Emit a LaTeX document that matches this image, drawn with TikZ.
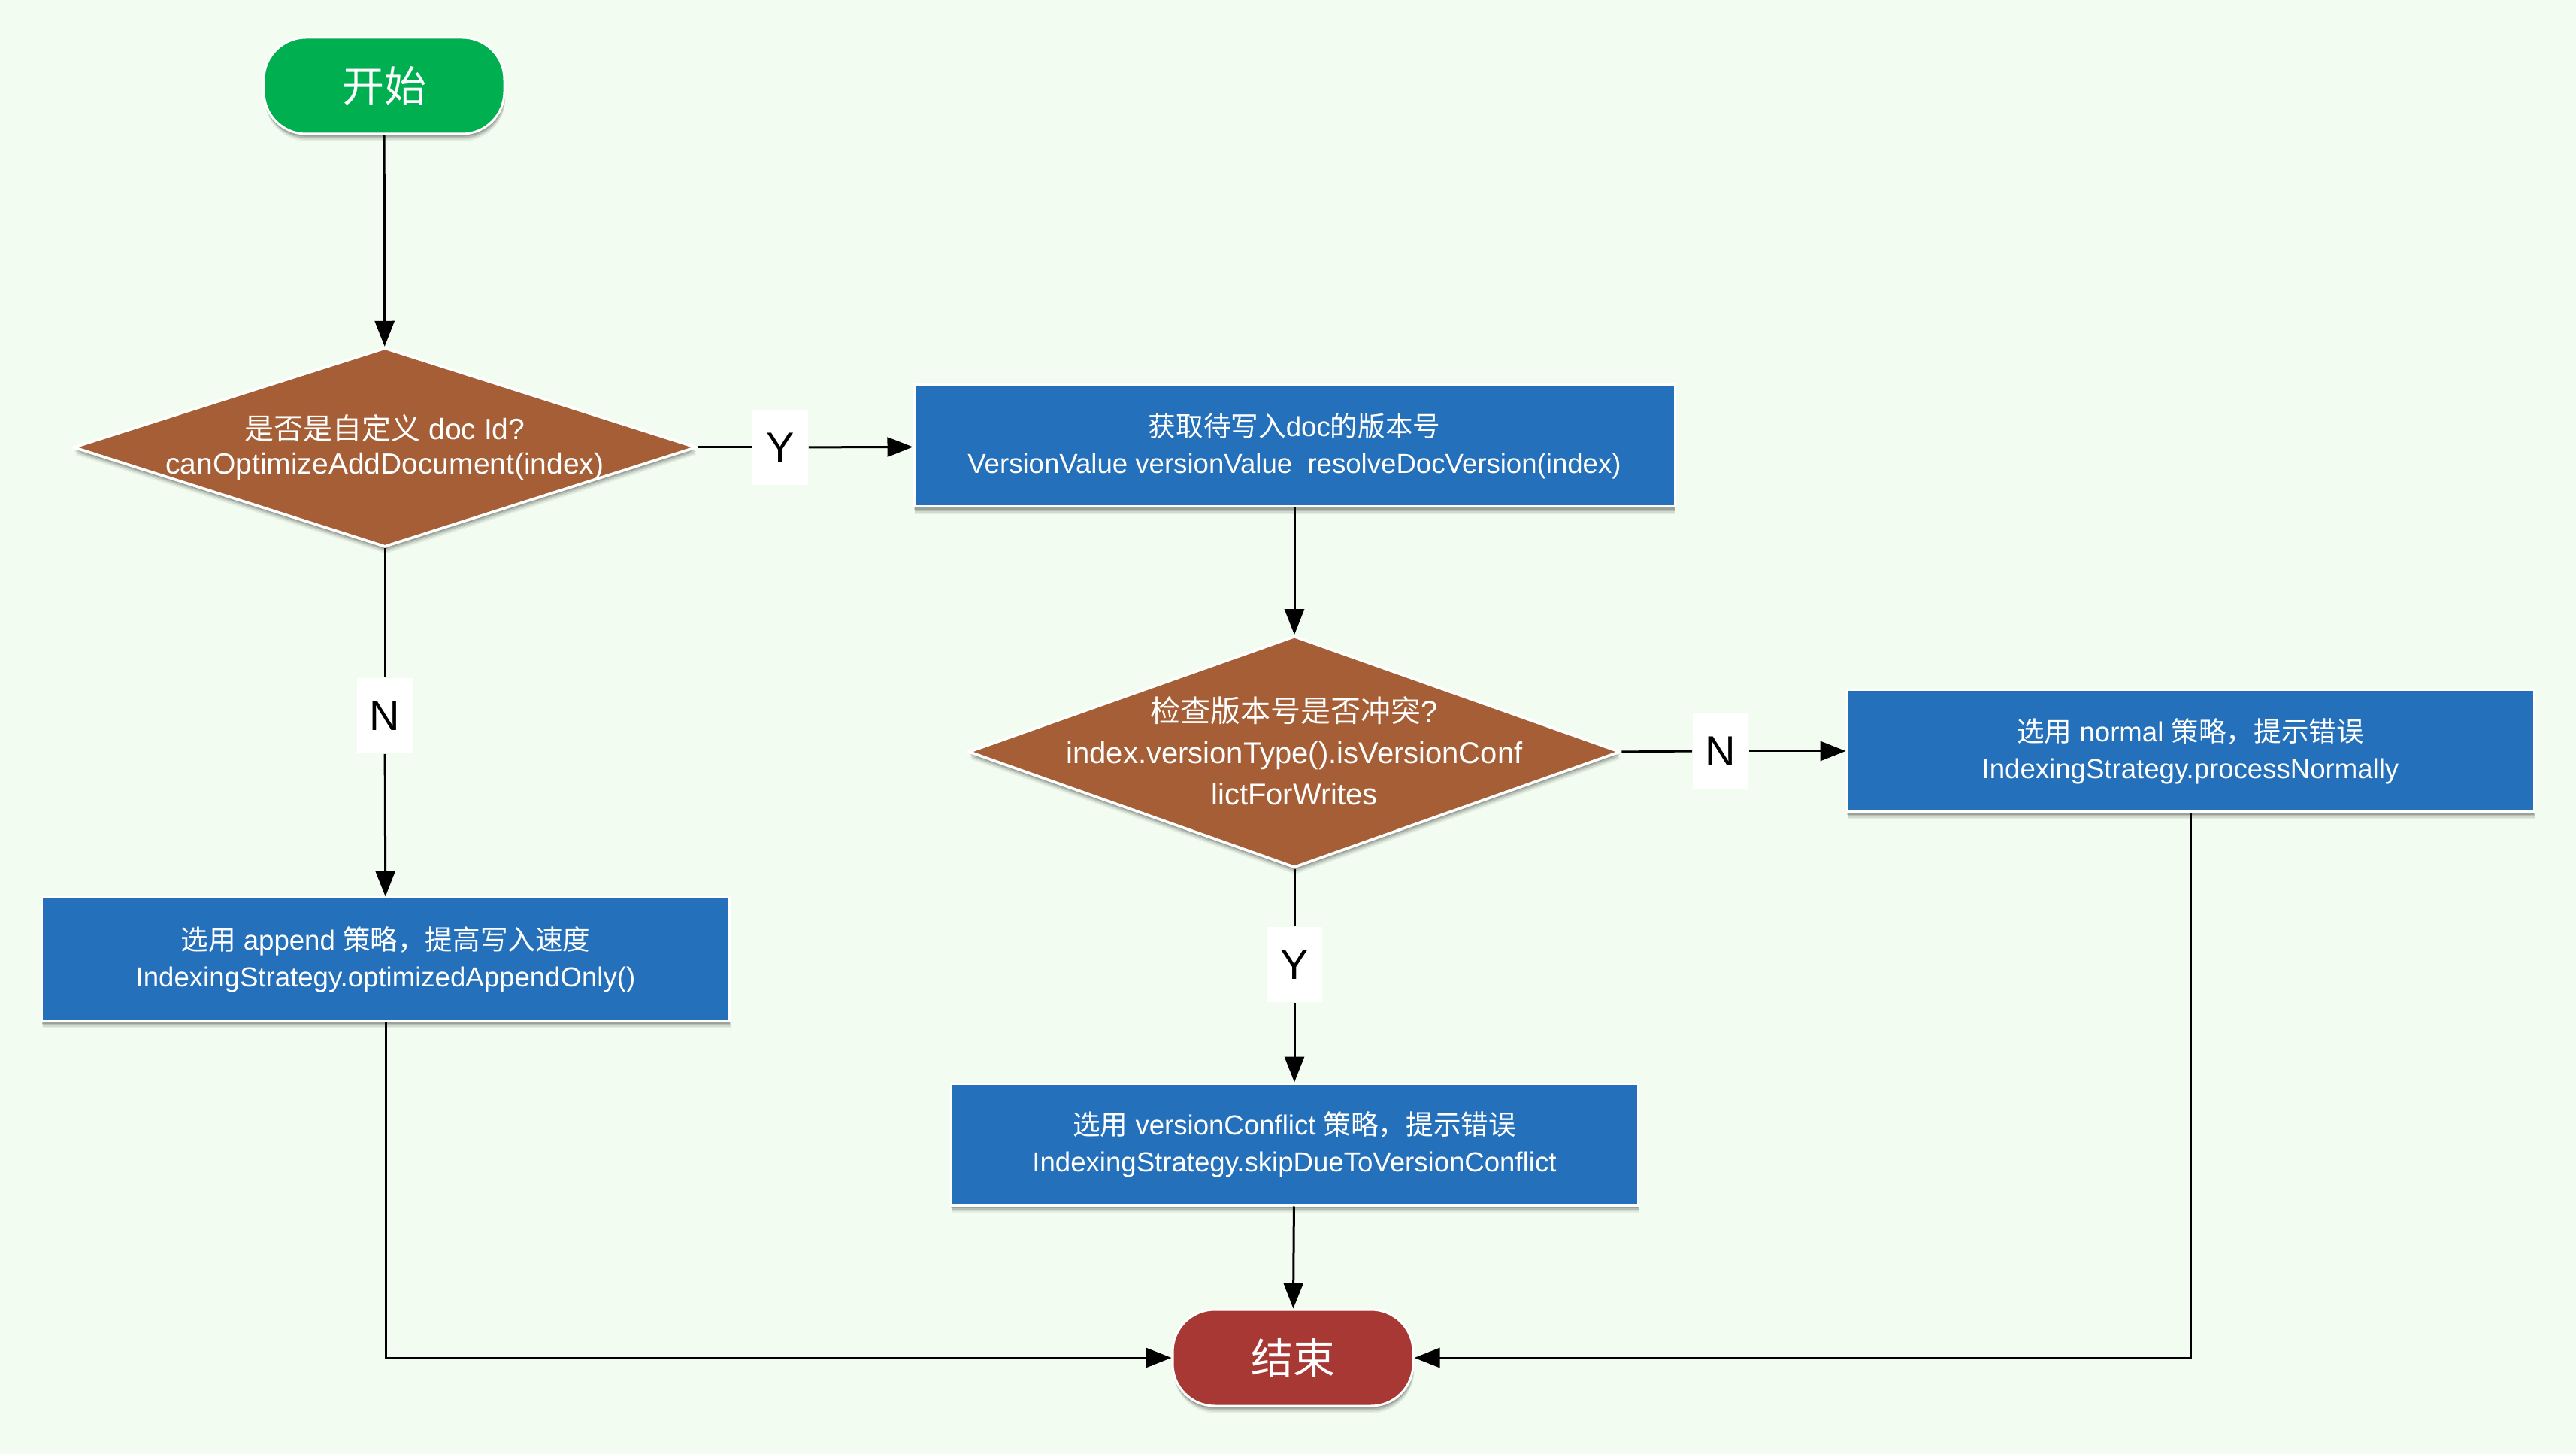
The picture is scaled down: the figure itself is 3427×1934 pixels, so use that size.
\documentclass[tikz,border=0pt]{standalone}
\usepackage{fontspec}
\setmainfont{Liberation Sans}
\newfontfamily\cjk{Noto Sans CJK SC}
\newcommand{\zh}[1]{{\cjk #1}}
\usetikzlibrary{shapes.geometric,shadows,arrows.meta}
\definecolor{bgc}{RGB}{242,252,240}
\definecolor{startgreen}{RGB}{0,176,80}
\definecolor{endred}{RGB}{168,56,52}
\definecolor{dbrown}{RGB}{166,94,54}
\definecolor{boxblue}{RGB}{36,112,186}
\begin{document}
\begin{tikzpicture}[x=0.25pt,y=-0.25pt,
  every node/.style={text=white},
  shad/.style={
    general shadow={shadow xshift=0.3pt,shadow yshift=-2.4pt,fill=black,opacity=0.06},
    general shadow={shadow xshift=0.3pt,shadow yshift=-1.9pt,fill=black,opacity=0.08},
    general shadow={shadow xshift=0.2pt,shadow yshift=-1.4pt,fill=black,opacity=0.12},
    general shadow={shadow xshift=0.1pt,shadow yshift=-0.9pt,fill=black,opacity=0.15}},
  terminal/.style={shape=rectangle,rounded corners=14pt,minimum width=80pt,minimum height=32pt,
    draw=white,line width=0.75pt,shad,font=\cjk\fontsize{14}{16}\selectfont,inner sep=0pt},
  dia/.style={shape=diamond,fill=dbrown,draw=white,line width=0.9pt,shad,inner sep=0pt},
  dtext/.style={align=center,inner sep=0pt},
  proc/.style={shape=rectangle,fill=boxblue,draw=white,line width=0.75pt,shad,align=center,
    minimum width=228.5pt,minimum height=40.5pt,inner sep=0pt,font=\fontsize{9.15}{12.25}\selectfont},
  yn/.style={shape=rectangle,fill=white,text=black,minimum width=18.5pt,minimum height=25pt,
    inner sep=0pt,font=\fontsize{14}{16}\selectfont},
  ln/.style={draw=black,line width=0.75pt},
  arr/.style={ln,-{Triangle[length=8.5pt,width=6.5pt]}}
]
\fill[bgc] (0,0) rectangle (3427,1934);
\useasboundingbox (0,0) rectangle (3427,1934);

% nodes
\node[terminal,fill=startgreen] (start) at (511,114) {开始};
\node[dia,minimum width=207.25pt,minimum height=66.25pt] (d1) at (512,595) {};
\node[dtext,font=\fontsize{9.75}{11.5}\selectfont] (d1t) at (512,595)
  {\zh{是否是自定义} doc Id?\\canOptimizeAddDocument(index)};
\node[yn] (y1) at (1038,595) {Y};
\node[proc,minimum width=253pt] (b2) at (1722,593)
  {\zh{获取待写入}doc\zh{的版本号}\\VersionValue versionValue\ \ resolveDocVersion(index)};
\node[dia,minimum width=216.75pt,minimum height=77pt] (d2) at (1722,1000) {};
\node[dtext,font=\fontsize{10}{13.75}\selectfont] (d2t) at (1722,999)
  {\zh{检查版本号是否冲突}?\\index.versionType().isVersionConf\\lictForWrites};
\node[yn] (n2) at (2289,999) {N};
\node[proc] (b3) at (2914,999)
  {\zh{选用} normal \zh{策略，提示错误}\\IndexingStrategy.processNormally};
\node[yn] (y2) at (1722,1283) {Y};
\node[proc] (b4) at (1722,1522)
  {\zh{选用} versionConflict \zh{策略，提示错误}\\IndexingStrategy.skipDueToVersionConflict};
\node[terminal,fill=endred] (end) at (1720,1806) {结束};
\node[yn] (n1) at (512,952) {N};
\node[proc,minimum width=228.75pt,minimum height=41pt] (b1) at (513,1276)
  {\zh{选用} append \zh{策略，提高写入速度}\\IndexingStrategy.optimizedAppendOnly()};

% connectors
\draw[arr] (start) -- (d1);
\draw[ln] (d1.east) -- (y1.west);
\draw[arr] (y1) -- (b2);
\draw[arr] (b2) -- (d2);
\draw[ln] (d2.east) -- (n2.west);
\draw[arr] (n2) -- (b3);
\draw[ln] (d2.south) -- (y2.north);
\draw[arr] (y2) -- (b4);
\draw[arr] (b4) -- (end);
\draw[ln] (d1.south) -- (n1.north);
\draw[arr] (n1) -- (b1);
\draw[arr] (b1.south) |- (end.west);
\draw[arr] (b3.south) |- (end.east);
\end{tikzpicture}
\end{document}
